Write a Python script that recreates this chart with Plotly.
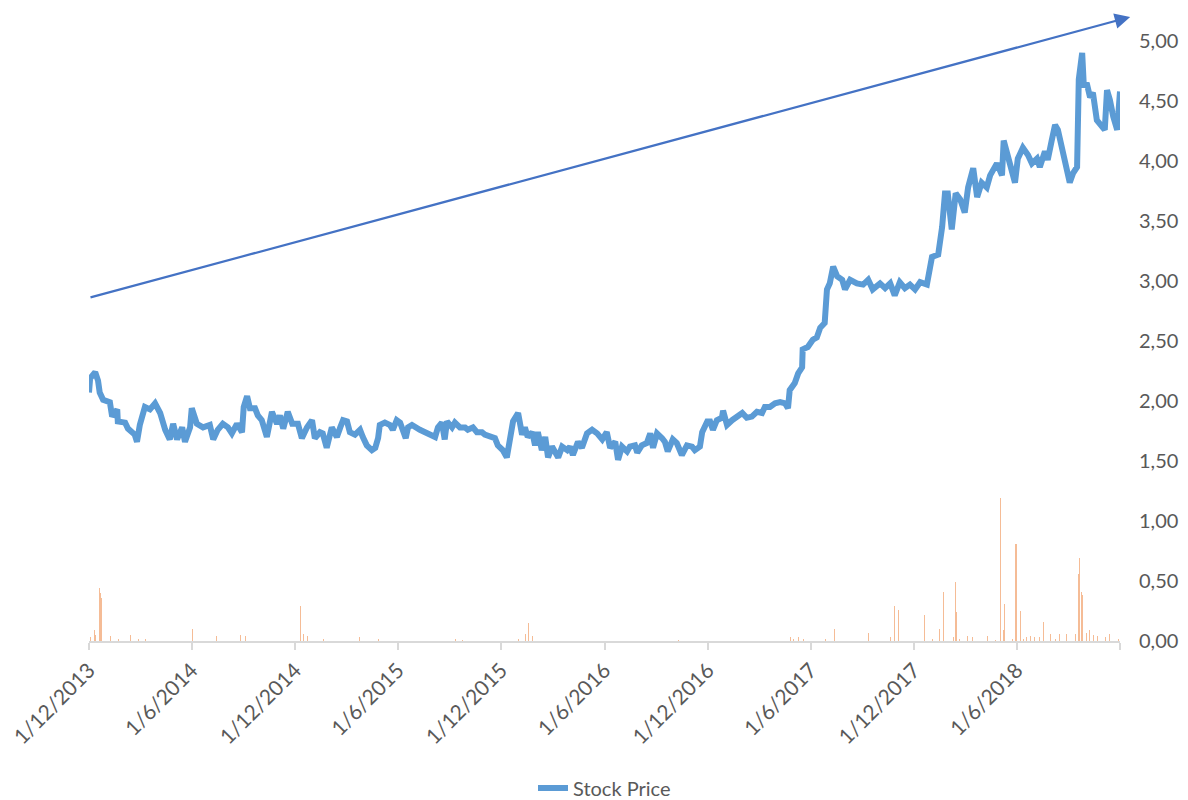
import pandas as pd
import plotly.graph_objects as go

START = "2013-12-01"
END = "2018-12-01"

# Stock price: days since 1 Dec 2013 and closing price
price_day = [
    0, 2, 11, 16, 19, 25, 37, 41, 50, 51, 64, 69, 81, 85, 90, 99, 108, 117, 126, 135,
    143, 149, 156, 165, 170, 179, 182, 191, 202, 214, 220, 228, 237, 246, 253, 262, 271, 274, 280, 285,
    294, 299, 306, 315, 324, 333, 338, 344, 352, 360, 370, 377, 386, 395, 400, 409, 414, 421, 430, 439,
    445, 450, 457, 462, 471, 480, 485, 492, 501, 507, 512, 515, 524, 533, 538, 545, 551, 556, 561, 565,
    572, 586, 600, 613, 618, 625, 630, 634, 643, 648, 657, 666, 671, 680, 687, 696, 701, 710, 719, 724,
    733, 740, 746, 751, 760, 767, 772, 777, 785, 790, 795, 802, 808, 813, 820, 825, 831, 838, 847, 852,
    857, 866, 873, 882, 891,
    900, 909, 917, 923, 932, 937, 944, 953, 958, 967, 971, 979, 988, 994, 999, 1006, 1015, 1020, 1025, 1034,
    1041, 1050, 1059, 1068, 1073, 1082, 1086, 1095, 1100, 1105, 1112, 1121, 1123, 1130, 1139, 1148, 1157, 1165, 1174, 1183,
    1192, 1197, 1206, 1215, 1224, 1233, 1238, 1241, 1250, 1256, 1263, 1264, 1273, 1282, 1289, 1295, 1303, 1307, 1312, 1318,
    1325, 1334, 1339,
    1348, 1360, 1371, 1380, 1388, 1401, 1410, 1419, 1427, 1436, 1445, 1454, 1463, 1472, 1484, 1493, 1504, 1511, 1516, 1521,
    1528, 1535, 1543, 1551, 1557, 1566, 1573, 1581, 1590, 1596, 1608, 1617, 1620, 1628, 1640, 1645, 1654, 1663, 1670, 1679,
    1684, 1693, 1698, 1705, 1711, 1716, 1725, 1732, 1737, 1743, 1750, 1753, 1759, 1762, 1767, 1773, 1778, 1785, 1794, 1799,
    1803, 1808, 1814, 1821, 1826,
]
price = [
    2.07, 2.19, 2.24, 2.17, 2.07, 2.01, 1.99, 1.87, 1.93, 1.83, 1.82, 1.77, 1.72, 1.66, 1.80, 1.95, 1.93, 1.98, 1.90, 1.76,
    1.68, 1.81, 1.68, 1.78, 1.66, 1.78, 1.94, 1.81, 1.78, 1.80, 1.68, 1.76, 1.81, 1.78, 1.73, 1.81, 1.74, 1.95, 2.04, 1.94,
    1.94, 1.88, 1.84, 1.70, 1.91, 1.81, 1.88, 1.77, 1.91, 1.81, 1.81, 1.69, 1.78, 1.84, 1.69, 1.74, 1.73, 1.61, 1.78, 1.70,
    1.78, 1.84, 1.83, 1.74, 1.72, 1.76, 1.70, 1.63, 1.59, 1.61, 1.69, 1.80, 1.82, 1.80, 1.76, 1.84, 1.82, 1.76, 1.69, 1.78,
    1.80, 1.76, 1.73, 1.70, 1.78, 1.82, 1.68, 1.83, 1.78, 1.82, 1.78, 1.78, 1.76, 1.78, 1.74, 1.74, 1.72, 1.70, 1.69, 1.63,
    1.59, 1.53, 1.72, 1.83, 1.90, 1.72, 1.78, 1.70, 1.74, 1.63, 1.74, 1.59, 1.70, 1.53, 1.62, 1.58, 1.53, 1.62, 1.59, 1.62,
    1.55, 1.66, 1.61, 1.73, 1.76,
    1.73, 1.68, 1.74, 1.61, 1.66, 1.51, 1.62, 1.58, 1.62, 1.63, 1.57, 1.63, 1.65, 1.73, 1.61, 1.73, 1.69, 1.66, 1.58, 1.68,
    1.65, 1.55, 1.63, 1.62, 1.59, 1.62, 1.74, 1.83, 1.83, 1.76, 1.84, 1.86, 1.92, 1.80, 1.84, 1.87, 1.90, 1.86, 1.87, 1.91,
    1.90, 1.95, 1.95, 1.98, 1.99, 1.98, 1.94, 2.09, 2.15, 2.23, 2.28, 2.43, 2.45, 2.51, 2.53, 2.61, 2.65, 2.93, 2.98, 3.12,
    3.04, 3.01, 2.93,
    3.01, 2.98, 2.97, 3.01, 2.93, 2.98, 2.94, 2.98, 2.88, 2.99, 2.94, 2.97, 2.93, 2.99, 2.97, 3.20, 3.22, 3.45, 3.73, 3.73,
    3.43, 3.73, 3.68, 3.57, 3.78, 3.94, 3.70, 3.82, 3.78, 3.88, 3.98, 3.88, 4.17, 4.01, 3.82, 4.02, 4.11, 4.05, 3.98, 4.02,
    3.95, 4.08, 4.01, 4.17, 4.30, 4.26, 4.05, 3.94, 3.82, 3.90, 3.95, 4.68, 4.90, 4.62, 4.65, 4.53, 4.57, 4.34, 4.29, 4.26,
    4.59, 4.51, 4.37, 4.26, 4.58,
]

# Secondary series (orange spikes): days since 1 Dec 2013 and value
spike_day = [
    3, 9, 12, 16, 18, 20, 22, 38, 52, 73, 88, 100, 183, 226, 268, 277, 374, 380, 387, 395,
    415, 479, 513, 649, 662, 760, 773, 778, 785, 1044, 1243, 1248, 1257, 1265, 1305, 1320, 1381, 1419, 1426, 1433,
    1480, 1494, 1507, 1509, 1513, 1531, 1534, 1536, 1541, 1548, 1556, 1564, 1592, 1606, 1614, 1620, 1622, 1635, 1641, 1643,
    1650, 1655, 1661, 1668, 1675, 1684, 1690, 1703, 1711, 1719, 1731, 1747, 1752, 1754, 1758, 1759, 1766, 1772, 1779, 1786,
    1800, 1807, 1823,
]
spike_val = [
    0.03, 0.09, 0.05, 0.13, 0.44, 0.40, 0.36, 0.04, 0.02, 0.05, 0.02, 0.02, 0.10, 0.04, 0.05, 0.04, 0.29, 0.06, 0.04, 0.03,
    0.02, 0.03, 0.02, 0.02, 0.01, 0.02, 0.06, 0.15, 0.04, 0.01, 0.03, 0.02, 0.03, 0.02, 0.02, 0.10, 0.07, 0.03, 0.29, 0.26,
    0.22, 0.02, 0.10, 0.19, 0.41, 0.03, 0.49, 0.24, 0.02, 0.02, 0.04, 0.03, 0.04, 0.01, 1.19, 0.09, 0.31, 0.02, 0.81, 0.81,
    0.25, 0.02, 0.03, 0.04, 0.03, 0.03, 0.16, 0.06, 0.02, 0.06, 0.06, 0.06, 0.56, 0.69, 0.41, 0.38, 0.07, 0.09, 0.05, 0.04,
    0.03, 0.06, 0.02,
]

tick_dates = ["2013-12-01", "2014-06-01", "2014-12-01", "2015-06-01", "2015-12-01", "2016-06-01",
              "2016-12-01", "2017-06-01", "2017-12-01", "2018-06-01", "2018-12-01"]
tick_labels = ["1/12/2013", "1/6/2014", "1/12/2014", "1/6/2015", "1/12/2015", "1/6/2016",
               "1/12/2016", "1/6/2017", "1/12/2017", "1/6/2018", ""]
y_ticks = [0, 0.5, 1, 1.5, 2, 2.5, 3, 3.5, 4, 4.5, 5]

trend_start = ("2013-12-01", 2.86)
trend_end = ("2018-12-19", 5.20)

start = pd.Timestamp(START)
price_x = start + pd.to_timedelta(price_day, unit="D")
spike_x = start + pd.to_timedelta(spike_day, unit="D")

FONT = "Lato, 'Open Sans', sans-serif"
GREY = "#595959"

fig = go.Figure()
fig.add_trace(go.Bar(
    x=spike_x, y=spike_val, width=1.6 * 86400000,
    marker=dict(color="rgba(241,160,105,0.7)", line=dict(width=0)),
    showlegend=False, hoverinfo="skip",
))
fig.add_trace(go.Scatter(
    x=price_x, y=price, mode="lines", name="Stock Price",
    line=dict(color="#5B9BD5", width=6, shape="linear"),
))

fig.add_annotation(
    x=trend_end[0], y=trend_end[1], ax=trend_start[0], ay=trend_start[1],
    xref="x", yref="y", axref="x", ayref="y",
    text="", showarrow=True, arrowhead=2, arrowsize=1.4, arrowwidth=2.2,
    arrowcolor="#4472C4",
)

fig.update_layout(
    width=1188, height=800,
    margin=dict(l=89, r=68, t=41, b=159, autoexpand=False),
    paper_bgcolor="white", plot_bgcolor="white",
    separators=",.",
    font=dict(family=FONT, color=GREY, size=20),
    showlegend=True,
    legend=dict(orientation="h", x=0.5, xanchor="center", y=-0.245, yanchor="middle",
                font=dict(size=20, color=GREY), itemwidth=30),
    bargap=0,
)
fig.update_xaxes(
    type="date", range=[START, END],
    tickvals=tick_dates, ticktext=tick_labels, tickangle=-45,
    tickfont=dict(size=21, color=GREY),
    showgrid=False, showline=True, linecolor="#D9D9D9", linewidth=1.5,
    ticks="outside", ticklen=7, tickcolor="#D9D9D9", tickwidth=1.5,
    zeroline=False,
)
fig.update_yaxes(
    side="right", range=[0, 5], tickvals=y_ticks, tickformat=".2f",
    tickfont=dict(size=20, color=GREY),
    showgrid=False, showline=False, zeroline=False, ticks="",
    ticklabelstandoff=18,
)

fig.write_html(
    "out.html",
    config={"displayModeBar": False},
    post_script="document.body.style.margin='0';document.body.style.overflow='hidden';",
)
